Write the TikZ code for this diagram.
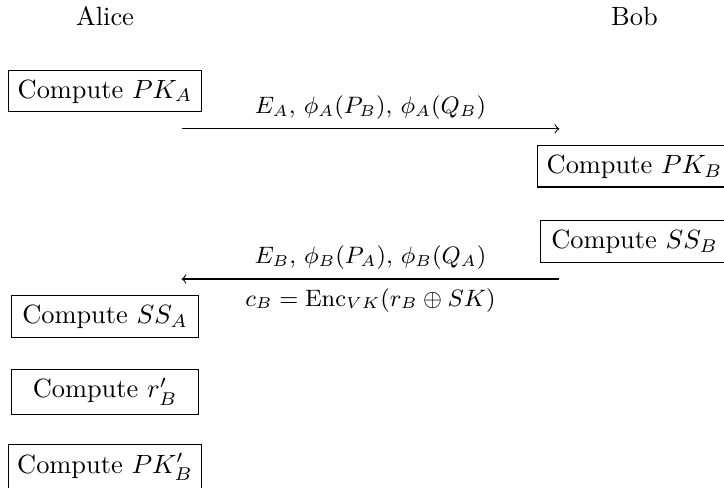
\documentclass[tikz,border=0pt]{standalone}
\begin{document}
\begin{tikzpicture}[
  stepbox/.style={draw, minimum width=71pt},
  lbl/.style={font=\small}
]
\useasboundingbox (-1.398,-6.282) rectangle (8.242,0.215);
\node (alice) at (0,0) {Alice};
\node (bob) at (7.05,0) {Bob};
\node[stepbox] (pka) at (0,-1) {Compute $PK_A$};
\coordinate (m1s) at (1.02,-1.5);
\coordinate (m1e) at (6.05,-1.5);
\draw[->] (m1s) -- node[above, lbl] {$E_A$, $\phi_A(P_B)$, $\phi_A(Q_B)$} (m1e);
\node[stepbox] (pkb) at (7.05,-2) {Compute $PK_B$};
\node[stepbox] (ssb) at (7.05,-3) {Compute $SS_B$};
\coordinate (m2s) at (6.05,-3.5);
\coordinate (m2e) at (1.02,-3.5);
\draw[->] (m2s) -- node[above, lbl] {$E_B$, $\phi_B(P_A)$, $\phi_B(Q_A)$}
  node[below, lbl] {$c_B = \mathrm{Enc}_{VK}(r_B \oplus SK)$} (m2e);
\node[stepbox] (ssa) at (0,-4) {Compute $SS_A$};
\node[stepbox] (rb) at (0,-5) {Compute $r'_B$};
\node[stepbox] (pkbp) at (0,-6) {Compute $PK'_B$};
\end{tikzpicture}
\end{document}
